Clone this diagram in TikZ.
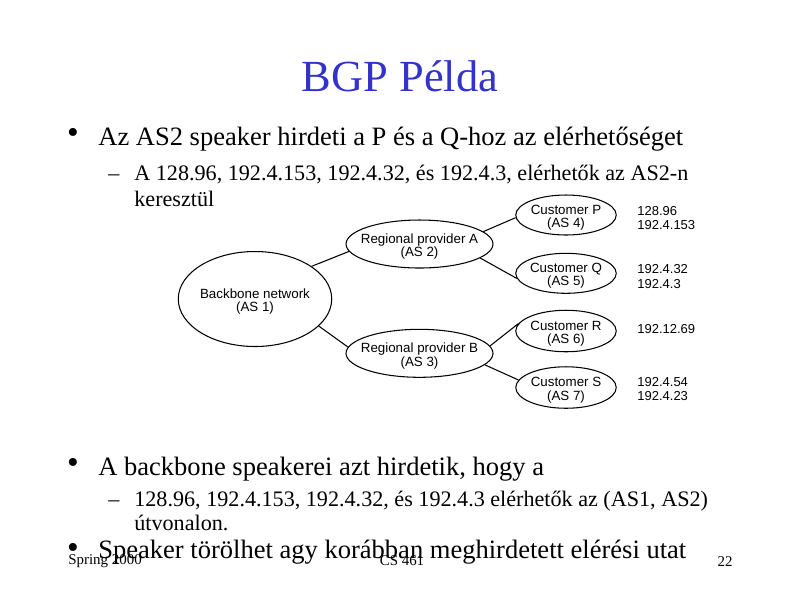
\documentclass[tikz,border=0pt]{standalone}
\usepackage{fontspec}
\setmainfont{Liberation Serif}
\newfontfamily\diagfont{Liberation Sans}
\usetikzlibrary{shapes.geometric}
\definecolor{titleblue}{RGB}{51,51,204}
\begin{document}
\begin{tikzpicture}[x=0.02cm,y=-0.02cm,
  ell/.style={draw, ellipse, inner sep=0pt, line width=0.6pt},
  lbl/.style={font=\diagfont\fontsize{7.6}{7.55}\selectfont, align=center, inner sep=0pt, yshift=-1.5pt},
  iplbl/.style={font=\diagfont\fontsize{7.4}{7.5}\selectfont, anchor=west, inner sep=0pt},
  conn/.style={line width=0.6pt},
  bul/.style={font=\fontsize{15.1}{18}\selectfont, anchor=base west, inner sep=0pt},
  dot/.style={font=\fontsize{19}{20}\selectfont, anchor=center, inner sep=0pt},
  sub/.style={font=\fontsize{12.6}{15}\selectfont, anchor=base west, inner sep=0pt},
  foot/.style={font=\fontsize{8.5}{10}\selectfont, inner sep=0pt},
]
\useasboundingbox (0,0) rectangle (800,600);

% title
\node[font=\fontsize{25.3}{28}\selectfont, text=titleblue, anchor=base, inner sep=0pt] (title) at (400,91) {BGP Példa};

% first bullet
\node[dot] (d1) at (73,136) {•};
\node[bul] (b1) at (98,145) {Az AS2 speaker hirdeti a P és a Q-hoz az elérhetőséget};
\node[sub] (dash1) at (108,180) {–};
\node[sub] (s1) at (134,180) {A 128.96, 192.4.153, 192.4.32, és 192.4.3, elérhetők az AS2-n};
\node[sub] (s1b) at (134,206) {keresztül};

% diagram
\node[ell, minimum width=3.07cm, minimum height=1.9cm, label={[lbl]center:{Backbone network\\(AS 1)}}] (bb) at (255,299) {};
\node[ell, minimum width=2.94cm, minimum height=0.96cm, label={[lbl]center:{Regional provider A\\(AS 2)}}] (ra) at (419.5,244) {};
\node[ell, minimum width=2.94cm, minimum height=0.96cm, label={[lbl]center:{Regional provider B\\(AS 3)}}] (rb) at (419.5,353.3) {};
\node[ell, minimum width=2.01cm, minimum height=0.8cm, label={[lbl]center:{Customer P\\(AS 4)}}] (cp) at (566,215) {};
\node[ell, minimum width=2.01cm, minimum height=0.8cm, label={[lbl]center:{Customer Q\\(AS 5)}}] (cq) at (566,273.3) {};
\node[ell, minimum width=2.01cm, minimum height=0.83cm, label={[lbl]center:{Customer R\\(AS 6)}}] (cr) at (566,331) {};
\node[ell, minimum width=2.01cm, minimum height=0.83cm, label={[lbl]center:{Customer S\\(AS 7)}}] (cs) at (566,387.5) {};

\draw[conn] (bb.30) -- (ra.186);
\draw[conn] (bb.337) -- (rb.175);
\draw[conn] (ra.11) -- (cp.183);
\draw[conn] (ra.347) -- (cq.186);
\draw[conn] (rb.6) -- (cr.171);
\draw[conn] (rb.350) -- (cs.171);

\node[iplbl] (ip1) at (637,210.7) {128.96};
\node[iplbl] (ip2) at (637,225) {192.4.153};
\node[iplbl] (ip3) at (637,269) {192.4.32};
\node[iplbl] (ip4) at (637,284.3) {192.4.3};
\node[iplbl] (ip5) at (637,329.3) {192.12.69};
\node[iplbl] (ip6) at (637,381.7) {192.4.54};
\node[iplbl] (ip7) at (637,396) {192.4.23};

% second bullet
\node[dot] (d2) at (73,466) {•};
\node[bul] (b2) at (98,475) {A backbone speakerei azt hirdetik, hogy a};
\node[sub] (dash2) at (108,506) {–};
\node[sub] (s2) at (134,506) {128.96, 192.4.153, 192.4.32, és 192.4.3 elérhetők az (AS1, AS2)};
\node[sub] (s2b) at (134,530) {útvonalon.};

% third bullet
\node[dot] (d3) at (73,551) {•};
\node[bul] (b3) at (98,558) {Speaker törölhet agy korábban meghirdetett elérési utat};

% footer
\node[foot, anchor=base west] (f1) at (68,564) {Spring 2000};
\node[foot, anchor=base] (f2) at (402,565) {CS 461};
\node[foot, anchor=base east] (f3) at (733,566) {22};
\end{tikzpicture}
\end{document}
